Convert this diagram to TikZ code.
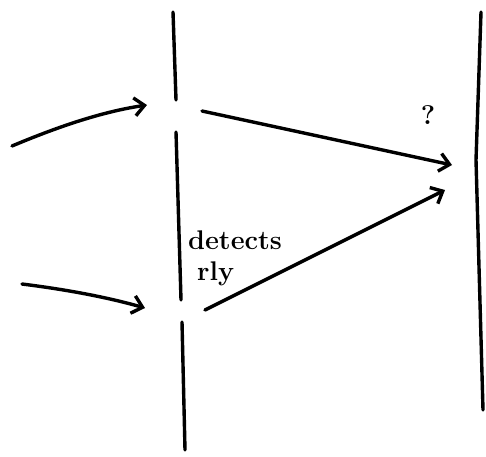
\documentclass[tikz,border=0pt]{standalone}
\usetikzlibrary{arrows.meta}
\begin{document}
\begin{tikzpicture}[x=1pt,y=-1pt,
  pen/.style={line width=3.4pt,line cap=round,line join=round},
  arr/.style={pen,-{Straight Barb[length=10pt,width=18pt,line width=3.4pt]}},
  lbl/.style={font=\fontsize{27}{29}\selectfont\bfseries,inner sep=0pt}]
\useasboundingbox (0,0) rectangle (486,456);
% middle wall
\coordinate (m1) at (173,12);
\coordinate (m2) at (176,100);
\coordinate (m3) at (176,132);
\coordinate (m4) at (181,300);
\coordinate (m5) at (182,322);
\coordinate (m6) at (185,450);
\draw[pen] (m1) -- (m2);
\draw[pen] (m3) -- (m4);
\draw[pen] (m5) -- (m6);
% right wall
\coordinate (r1) at (481,12);
\coordinate (r2) at (476,160);
\coordinate (r3) at (483,410);
\draw[pen] (r1) -- (r2) -- (r3);
% arrows
\coordinate (a1s) at (12,146);
\coordinate (a1e) at (147,105);
\draw[arr] (a1s) .. controls (55,128) and (100,112) .. (a1e);
\coordinate (a2s) at (202,111);
\coordinate (a2e) at (452,165);
\draw[arr] (a2s) -- (a2e);
\coordinate (a3s) at (22,284);
\coordinate (a3e) at (145,308);
\draw[arr] (a3s) .. controls (70,290) and (110,298) .. (a3e);
\coordinate (a4s) at (205,310);
\coordinate (a4e) at (445,190);
\draw[arr] (a4s) -- (a4e);
% labels
\node[lbl] (q) at (428,115) {?};
\node[lbl,anchor=west] (det) at (188,240) {detects};
\node[lbl,anchor=west] (rly) at (197,274) {rly};
\end{tikzpicture}
\end{document}
